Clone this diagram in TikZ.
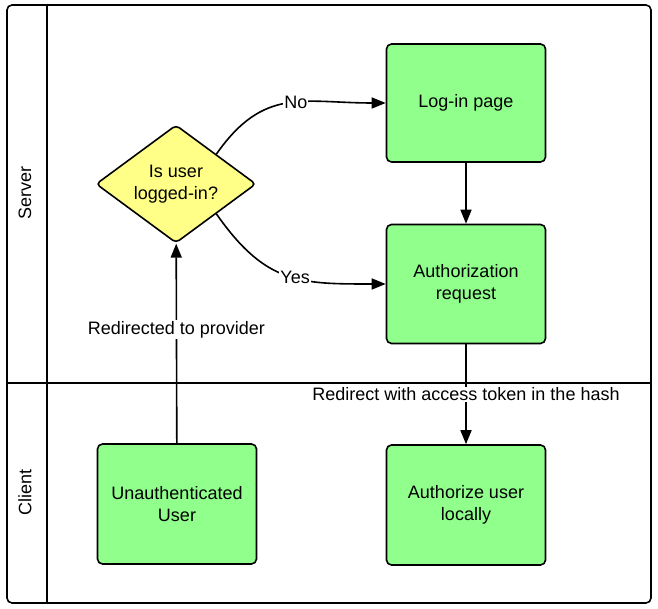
\documentclass[tikz,border=0pt]{standalone}
\usepackage{fontspec}
\setmainfont{Liberation Sans}
\usepackage{xcolor}
\usetikzlibrary{shapes.geometric,positioning,arrows.meta}

\definecolor{boxgreen}{HTML}{90FF8C}
\definecolor{decyellow}{HTML}{FFFF88}

\begin{document}
\begin{tikzpicture}[x=1pt, y=1pt, line width=1.6pt,
    font=\fontsize{18}{21.5}\selectfont,
    task/.style={draw, fill=boxgreen, rounded corners=5pt, minimum width=159pt,
        minimum height=118pt, align=center, inner sep=0pt},
    decision/.style={draw, fill=decyellow, diamond, aspect=1.36, rounded corners=4pt,
        minimum width=160pt, minimum height=118pt, align=center, inner sep=0pt},
    lbl/.style={fill=white, inner sep=1pt},
    flow/.style={-{Triangle[length=14pt, width=11pt]}}]

    \useasboundingbox (0,0) rectangle (658,609);

    \node[decision] (logged) at (176, 425) {Is user\\logged-in?};
    \node[task]     (login)  at (466, 506) {Log-in page};
    \node[task, minimum height=119pt] (authreq) at (466, 325) {Authorization\\request};
    \node[task, minimum height=120pt] (unauth)  at (177, 105) {Unauthenticated\\User};
    \node[task, minimum height=120pt] (local)   at (466, 104) {Authorize user\\locally};

    \path[flow]
        (logged.north east) edge[out=55, in=180, looseness=1.2] node[lbl, pos=0.55] {No} (login.west)
        (logged.south east) edge[out=-55, in=180, looseness=1.2] node[lbl, pos=0.55] {Yes} (authreq.west)
        (login) edge (authreq)
        (authreq) edge node[lbl] {Redirect with access token in the hash} (local)
        (unauth) edge node[lbl, pos=0.57] {Redirected to provider} (logged);

    % swimlanes
    \draw[rounded corners=5pt] (7,6) rectangle (651,604);
    \draw (47,6) -- (47,604);
    \draw (7,226) -- (651,226);
    \node[rotate=90] (server) at (25,416) {Server};
    \node[rotate=90] (client) at (25,117) {Client};
\end{tikzpicture}
\end{document}
